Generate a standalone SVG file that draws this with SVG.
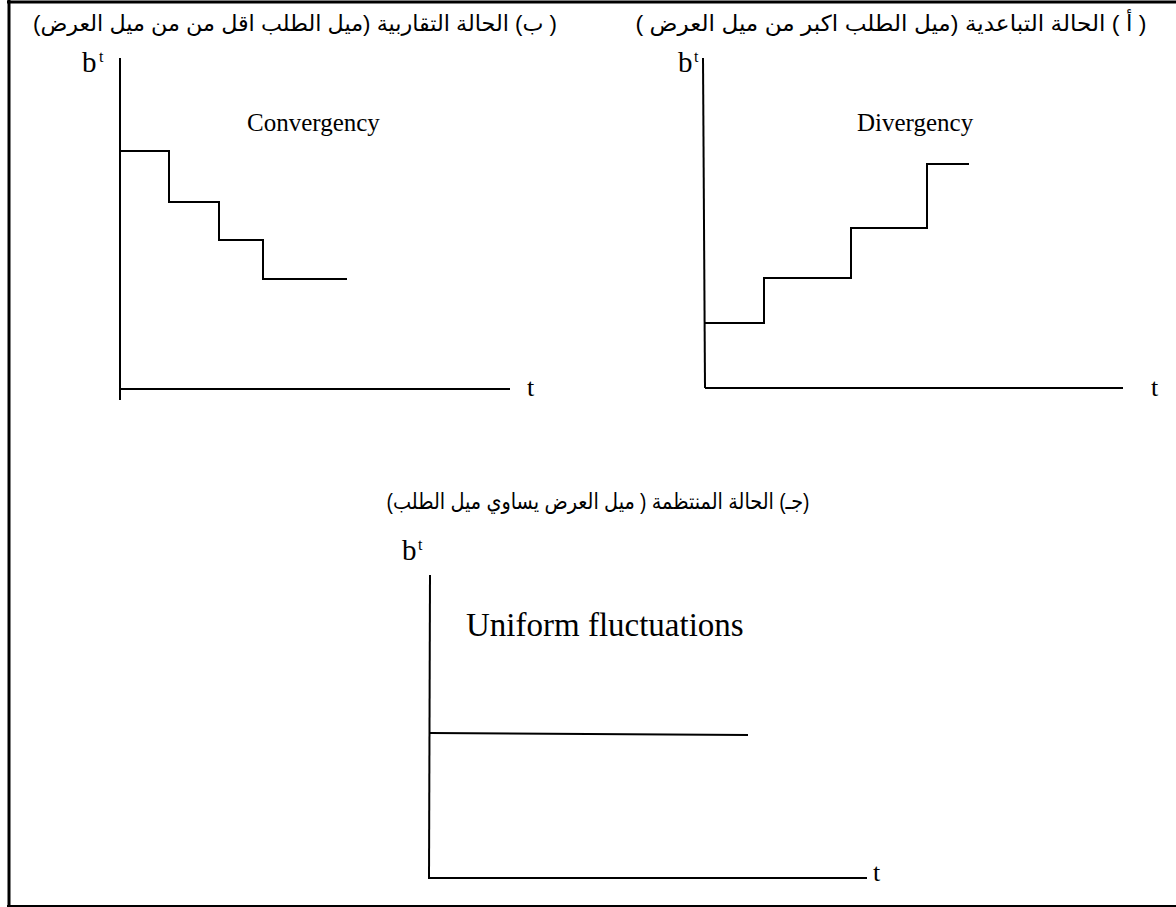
<svg xmlns="http://www.w3.org/2000/svg" width="1176" height="907" viewBox="0 0 1176 907">
<style>
.ln{stroke:#000;stroke-width:2;fill:none}
.fr{stroke:#000;fill:none}
.lat{font-family:"Liberation Serif","Times New Roman",serif;fill:#000}
.ar{font-family:"Liberation Sans","DejaVu Sans",sans-serif;font-size:22px;fill:#000}
.b{font-size:29px}
.sup{font-size:16px}
.tl{font-size:26px}
.cap{font-size:25px}
</style>
<rect width="1176" height="907" fill="#fff"/>
<g id="frame">
<line class="fr" x1="7" y1="2" x2="1176" y2="2" stroke-width="3"/>
<line class="fr" x1="9" y1="0" x2="9" y2="907" stroke-width="3"/>
<line class="fr" x1="7" y1="906" x2="1176" y2="906" stroke-width="2"/>
</g>
<g id="chart-b">
<text class="ar" x="295" y="31" direction="rtl" text-anchor="middle" textLength="524" lengthAdjust="spacingAndGlyphs">( ب) الحالة التقاربية (ميل الطلب اقل من من ميل العرض)</text>
<text class="lat b" x="82" y="72">b</text><text class="lat sup" x="99" y="62">t</text>
<text class="lat cap" x="247" y="131">Convergency</text>
<text class="lat tl" x="527" y="396">t</text>
</g>
<g id="chart-a">
<text class="ar" x="891" y="31" direction="rtl" text-anchor="middle" textLength="511" lengthAdjust="spacingAndGlyphs">( أ ) الحالة التباعدية  (ميل الطلب اكبر من ميل العرض )</text>
<text class="lat b" x="678" y="72">b</text><text class="lat sup" x="694" y="62">t</text>
<text class="lat cap" x="857" y="131">Divergency</text>
<text class="lat tl" x="1151" y="396">t</text>
</g>
<g id="chart-c">
<text class="ar" x="598" y="509" direction="rtl" text-anchor="middle" textLength="423" lengthAdjust="spacingAndGlyphs">(جـ) الحالة المنتظمة ( ميل العرض يساوي ميل الطلب)</text>
<text class="lat b" x="402" y="560">b</text><text class="lat sup" x="418" y="550">t</text>
<text class="lat" x="466" y="636" font-size="33">Uniform fluctuations</text>
<text class="lat tl" x="873" y="881">t</text>
</g>
<g id="connectors">
<polyline class="ln" points="120,58 120,400"/>
<line class="ln" x1="120" y1="389" x2="510" y2="389"/>
<polyline class="ln" points="120,151 169,151 169,202 219,202 219,240 263,240 263,279 347,279"/>
<polyline class="ln" points="703,58 705,388"/>
<line class="ln" x1="705" y1="388" x2="1123" y2="388"/>
<polyline class="ln" points="705,323 764,323 764,278 851,278 851,228 927,228 927,164 969,164"/>
<line class="ln" x1="430" y1="575" x2="429" y2="878"/>
<line class="ln" x1="428" y1="878" x2="867" y2="878"/>
<line class="ln" x1="430" y1="733" x2="748" y2="735"/>
</g>
</svg>
